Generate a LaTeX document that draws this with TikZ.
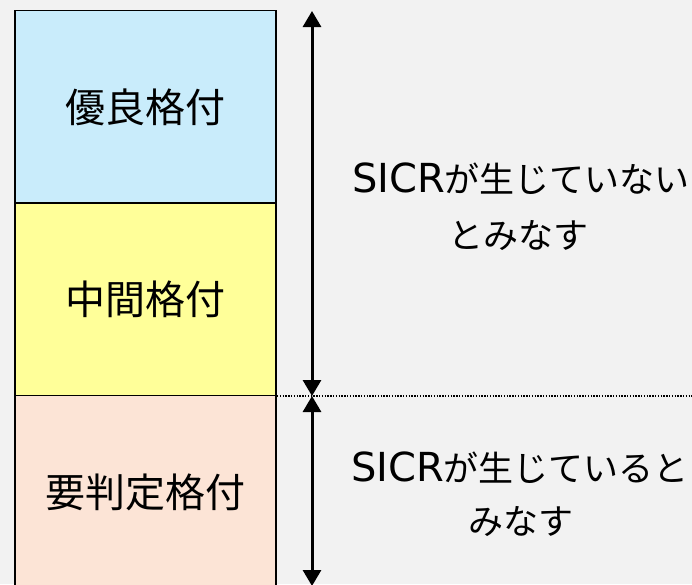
\documentclass[tikz,border=0pt]{standalone}
\usepackage{fontspec}
\setmainfont{Noto Sans CJK JP}
\newfontfamily\latfont{DejaVu Sans}
\usetikzlibrary{arrows.meta}
\definecolor{bgc}{HTML}{F2F2F2}
\definecolor{cblue}{HTML}{C9ECFB}
\definecolor{cyellow}{HTML}{FFFF99}
\definecolor{cpink}{HTML}{FCE4D6}
\tikzset{
  band/.style={draw=black, line width=1.7pt, minimum width=261pt, minimum height=193pt,
    inner sep=0pt, outer sep=0pt, font=\fontsize{40}{48}\selectfont},
  rtext/.style={anchor=base, inner sep=0pt, font=\fontsize{35}{42}\selectfont},
  dblarrow/.style={line width=3pt, {Triangle[length=16pt,width=18pt]}-{Triangle[length=16pt,width=18pt]}},
  sepline/.style={line width=2.2pt, draw=black, dash pattern=on 1.4pt off 1.4pt}
}
\newcommand{\lat}[1]{{\latfont\fontsize{40}{42}\selectfont #1}}
\begin{document}
\begin{tikzpicture}[x=1pt,y=-1pt]
\useasboundingbox (0,0) rectangle (692,584);
\clip (0,0) rectangle (692,584);
\fill[bgc] (0,0) rectangle (692,584);
\node[band, fill=cblue] (b1) at (145.5,107) {優良格付};
\node[band, fill=cyellow] (b2) at (145.5,299.5) {中間格付};
\node[band, fill=cpink] (b3) at (145.5,492) {要判定格付};
\coordinate (d1) at (277,396);
\coordinate (d2) at (692,396);
\draw[sepline] (d1) -- (d2);
\coordinate (t1) at (312,11);
\coordinate (m) at (312,396);
\coordinate (t2) at (312,586);
\draw[dblarrow] (t1) -- (m);
\draw[dblarrow] (m) -- (t2);
\node[rtext] (u1) at (521,192) {\lat{SICR}が生じていない};
\node[rtext] (u2) at (518,248) {とみなす};
\node[rtext] (l1) at (520,481) {\lat{SICR}が生じていると};
\node[rtext] (l2) at (521,534) {みなす};
\end{tikzpicture}
\end{document}
